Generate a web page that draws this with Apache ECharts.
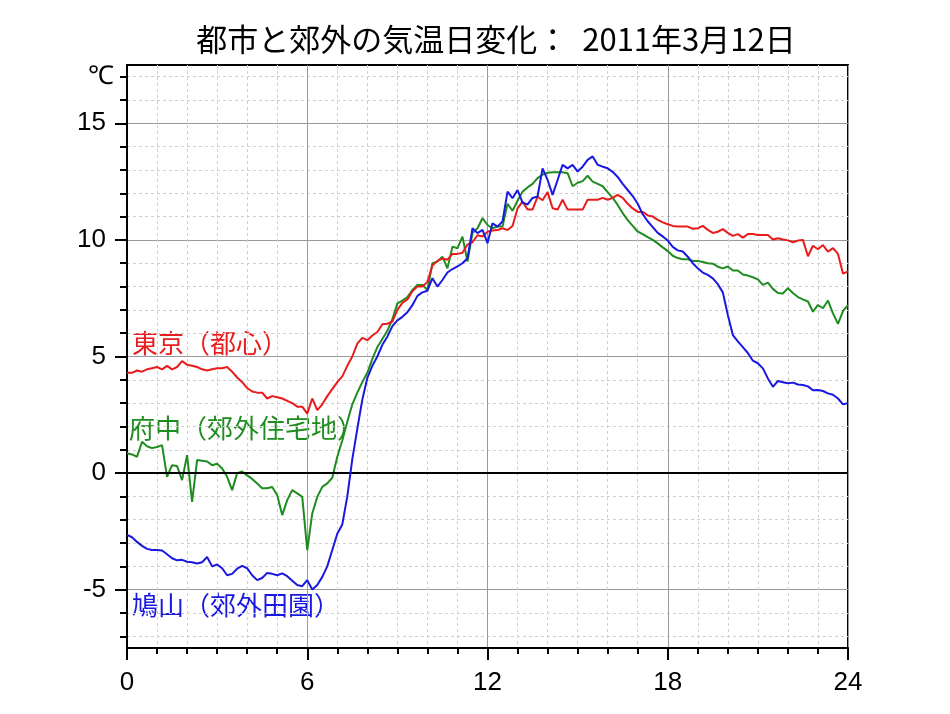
<!DOCTYPE html>
<html>
<head>
<meta charset="utf-8">
<script src="https://cdn.jsdelivr.net/npm/echarts@6/dist/echarts.min.js"></script>
<style>
  html, body { margin: 0; padding: 0; background: #fff; }
  #chart { width: 950px; height: 714px; }
</style>
</head>
<body>
<div id="chart"></div>
<script>
// 10分ごとの気温 (0:00〜24:00, 145点)
const tokyo = [
  4.3, 4.3, 4.4, 4.35, 4.45, 4.5,
  4.55, 4.45, 4.6, 4.45, 4.55, 4.8,
  4.65, 4.6, 4.55, 4.45, 4.4, 4.45,
  4.5, 4.5, 4.55, 4.35, 4.1, 3.9,
  3.65, 3.5, 3.45, 3.45, 3.2, 3.3,
  3.25, 3.2, 3.1, 3.0, 2.85, 2.85,
  2.55, 3.2, 2.7, 2.95, 3.3, 3.6,
  3.9, 4.15, 4.6, 5.0, 5.55, 5.8,
  5.7, 5.9, 6.05, 6.38, 6.4, 6.5,
  7.0, 7.3, 7.45, 7.8, 8.0, 8.0,
  8.2, 8.9, 9.1, 9.2, 9.15, 9.4,
  9.4, 9.45, 9.8, 9.9, 10.2, 10.15,
  10.35, 10.4, 10.42, 10.5, 10.42, 10.6,
  11.35, 11.64, 11.3, 11.3, 11.85, 11.7,
  12.05, 11.36, 11.3, 11.72, 11.3, 11.3,
  11.3, 11.3, 11.72, 11.72, 11.72, 11.8,
  11.72, 11.8, 11.93, 11.8, 11.55, 11.35,
  11.2, 11.2, 11.05, 11.0, 10.86, 10.75,
  10.67, 10.6, 10.57, 10.57, 10.57, 10.48,
  10.5, 10.6, 10.43, 10.3, 10.35, 10.46,
  10.3, 10.17, 10.25, 10.1, 10.25, 10.25,
  10.21, 10.21, 10.21, 10.02, 10.07, 10.02,
  9.98, 9.9, 9.97, 10.0, 9.3, 9.75,
  9.6, 9.78, 9.5, 9.65, 9.4, 8.55,
  8.65
];
const fuchu = [
  0.85, 0.8, 0.7, 1.34, 1.15, 1.07,
  1.12, 1.2, -0.16, 0.34, 0.3, -0.3,
  0.77, -1.23, 0.56, 0.53, 0.5, 0.34,
  0.4, 0.2, -0.16, -0.73, 0.0, 0.07,
  -0.1, -0.25, -0.45, -0.65, -0.65, -0.6,
  -0.95, -1.8, -1.16, -0.73, -0.87, -1.02,
  -3.3, -1.73, -1.02, -0.59, -0.44, -0.2,
  0.7, 1.4, 2.2, 2.95, 3.45, 3.9,
  4.3, 4.9, 5.4, 5.75, 6.1, 6.6,
  7.28, 7.4, 7.55, 7.85, 8.07, 8.07,
  7.85, 9.0, 9.07, 9.28, 8.78, 9.71,
  9.64, 10.14, 9.07, 10.29, 10.5, 10.93,
  10.64, 10.5, 10.57, 10.57, 11.55, 11.25,
  11.68, 12.07, 12.25, 12.4, 12.65, 12.8,
  12.88, 12.9, 12.9, 12.9, 12.86, 12.3,
  12.45, 12.52, 12.75, 12.5, 12.4, 12.3,
  12.05, 11.8, 11.5, 11.15, 10.85, 10.6,
  10.36, 10.25, 10.12, 10.0, 9.85, 9.68,
  9.52, 9.32, 9.22, 9.17, 9.17, 9.1,
  9.1, 9.05, 9.0, 8.98, 8.85, 8.78,
  8.86, 8.69, 8.69, 8.52, 8.47, 8.4,
  8.31, 8.07, 8.17, 7.9, 7.72, 7.7,
  7.93, 7.72, 7.55, 7.45, 7.36, 6.92,
  7.21, 7.07, 7.4, 6.85, 6.4, 6.95,
  7.2
];
const hatoyama = [
  -2.65, -2.75, -2.95, -3.12, -3.25, -3.3,
  -3.3, -3.32, -3.48, -3.65, -3.74, -3.72,
  -3.8, -3.82, -3.88, -3.82, -3.6, -4.0,
  -3.92, -4.08, -4.38, -4.32, -4.1, -3.98,
  -4.08, -4.38, -4.59, -4.5, -4.28, -4.32,
  -4.38, -4.3, -4.42, -4.62, -4.8, -4.85,
  -4.59, -4.99, -4.8, -4.45, -4.0, -3.3,
  -2.6, -2.2, -1.0, 0.6, 1.9, 3.15,
  4.08, 4.6, 5.0, 5.5, 5.85, 6.3,
  6.55, 6.7, 6.9, 7.2, 7.6, 7.75,
  7.82, 8.36, 8.0, 8.28, 8.6, 8.75,
  8.86, 9.0, 9.21, 10.5, 10.29, 10.43,
  9.86, 10.71, 10.57, 10.79, 12.07, 11.79,
  12.14, 11.6, 11.52, 11.8, 11.86, 13.07,
  12.57, 11.93, 12.57, 13.22, 13.07, 13.22,
  12.93, 13.14, 13.43, 13.58, 13.22, 13.14,
  13.07, 12.92, 12.7, 12.4, 12.14, 11.88,
  11.55, 11.1, 10.8, 10.55, 10.3, 10.15,
  9.97, 9.7, 9.55, 9.5, 9.28, 9.0,
  8.78, 8.6, 8.5, 8.35, 8.1, 7.75,
  6.78, 5.92, 5.65, 5.4, 5.15, 4.82,
  4.71, 4.49, 4.06, 3.7, 3.95, 3.9,
  3.85, 3.88, 3.8, 3.78, 3.72, 3.55,
  3.56, 3.52, 3.42, 3.36, 3.2, 2.95,
  3.0
];
const seriesNames = ['東京（都心）', '府中（郊外住宅地）', '鳩山（郊外田園）'];
const yMinorTicks = [-7, -6, -5, -4, -3, -2, -1, 0, 1, 2, 3, 4, 5, 6, 7, 8, 9, 10, 11, 12, 13, 14, 15, 16, 17];
const yMajorTicks = [-5, 0, 5, 10, 15];
const titleText = '都市と郊外の気温日変化：  2011年3月12日';

const hours = tokyo.map((_, i) => i / 6);
const pairs = arr => arr.map((v, i) => [hours[i], v]);

const jp = '"Noto Sans CJK JP", sans-serif';
const num = '"Liberation Sans", Arial, sans-serif';
const colors = ['#e81c1c', '#1e8c1e', '#1818e0'];

let chart = echarts.init(document.getElementById('chart'));

let option = {
    animation: false,
    backgroundColor: '#fff',
    title: {
        text: titleText,
        left: 491,
        top: 19,
        textAlign: 'center',
        textStyle: { fontFamily: jp, fontSize: 31, fontWeight: 'normal', color: '#000' }
    },
    grid: {
        left: 127, right: 102, top: 65, bottom: 66,
        show: true, borderColor: '#000', borderWidth: 2, backgroundColor: 'transparent'
    },
    xAxis: [
        {   // 1時間ごとの細目盛と破線
            type: 'value', min: 0, max: 24, interval: 1, position: 'bottom',
            axisLine: { onZero: false, lineStyle: { color: '#000', width: 2 } },
            axisTick: { length: 6, lineStyle: { color: '#000', width: 2 } },
            axisLabel: { show: false },
            splitLine: { lineStyle: { color: '#cfcfcf', width: 1, type: [3, 3] } }
        },
        {   // 6時間ごとの主目盛
            type: 'value', min: 0, max: 24, interval: 6, position: 'bottom',
            axisLine: { show: false, onZero: false },
            axisTick: { length: 12, lineStyle: { color: '#000', width: 2 } },
            axisLabel: { fontFamily: num, fontSize: 26, color: '#000', margin: 22 },
            splitLine: { lineStyle: { color: '#9a9a9a', width: 1 } }
        }
    ],
    yAxis: [
        {
            type: 'value', min: -7.5, max: 17.5, position: 'left',
            minInterval: 1, maxInterval: 1, splitNumber: 25,
            axisLine: { onZero: false, lineStyle: { color: '#000', width: 2 } },
            axisTick: { length: 7, customValues: yMinorTicks, lineStyle: { color: '#000', width: 2 } },
            axisLabel: {
                customValues: [17], margin: 13, fontFamily: num, fontSize: 26, color: '#000',
                formatter: v => (v === 17 ? '℃' : '')
            },
            splitLine: { lineStyle: { color: '#cfcfcf', width: 1, type: [3, 3] } }
        },
        {
            type: 'value', min: -7.5, max: 17.5, position: 'left',
            minInterval: 5, maxInterval: 5, splitNumber: 5,
            axisLine: { show: false, onZero: false },
            axisTick: { length: 12, customValues: yMajorTicks, lineStyle: { color: '#000', width: 2 } },
            axisLabel: {
                customValues: yMajorTicks, margin: 21, fontFamily: num, fontSize: 26, color: '#000',
                formatter: v => (yMajorTicks.indexOf(v) >= 0 ? String(v) : '')
            },
            splitLine: { lineStyle: { color: '#9a9a9a', width: 1 } }
        }
    ],
    series: [
        {
            name: seriesNames[0], type: 'line', data: pairs(tokyo),
            showSymbol: false, lineStyle: { color: colors[0], width: 2 }, z: 4,
            markLine: {
                silent: true, symbol: 'none', label: { show: false },
                lineStyle: { color: '#000', width: 2, type: 'solid' },
                data: [{ yAxis: 0 }]
            }
        },
        {
            name: seriesNames[1], type: 'line', data: pairs(fuchu),
            showSymbol: false, lineStyle: { color: colors[1], width: 2 }, z: 3
        },
        {
            name: seriesNames[2], type: 'line', data: pairs(hatoyama),
            showSymbol: false, lineStyle: { color: colors[2], width: 2 }, z: 5
        }
    ],
    graphic: [
        { type: 'text', x: 132, y: 343, style: { text: seriesNames[0], fill: colors[0], font: '26px ' + jp, verticalAlign: 'middle' } },
        { type: 'text', x: 129, y: 428, style: { text: seriesNames[1], fill: colors[1], font: '26px ' + jp, verticalAlign: 'middle' } },
        { type: 'text', x: 132, y: 605, style: { text: seriesNames[2], fill: colors[2], font: '26px ' + jp, verticalAlign: 'middle' } }
    ]
};
chart.setOption(option);
</script>
</body>
</html>
